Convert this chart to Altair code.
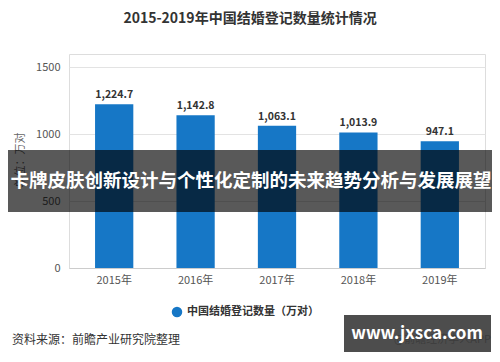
import altair as alt
import pandas as pd

years = ["2015年", "2016年", "2017年", "2018年", "2019年"]
values = [1224.7, 1142.8, 1063.1, 1013.9, 947.1]
series_name = "中国结婚登记数量（万对）"
title_text = "2015-2019年中国结婚登记数量统计情况"
y_title = "单位：万对"
banner_text = "卡牌皮肤创新设计与个性化定制的未来趋势分析与发展展望"
source_text = "资料来源：前瞻产业研究院整理"
app_text = "@前瞻经济学人APP"
site_text = "www.jxsca.com"

FONT = "Noto Sans CJK SC"
L, T = 69, 54  # page coords of plot origin

df = pd.DataFrame({"year": years, "value": values, "series": [series_name] * len(years)})

base = alt.Chart(df)

bars = base.mark_bar(width=alt.RelativeBandSize(1.0)).encode(
    x=alt.X("year:N", sort=years,
            scale=alt.Scale(paddingInner=0.53, paddingOuter=0.32),
            axis=alt.Axis(title=None, labelAngle=0, labelFontSize=11, labelColor="#555",
                          labelFont=FONT, ticks=False, domainColor="#ccc", labelPadding=6)),
    y=alt.Y("value:Q", scale=alt.Scale(domain=[0, 1500]),
            axis=alt.Axis(title=None, values=[0, 500, 1000, 1500], format="d", labelFontSize=11,
                          labelColor="#555", labelFont=FONT, ticks=False, domain=False,
                          gridColor="#e3e3e3", labelPadding=9)),
    color=alt.Color("series:N", scale=alt.Scale(range=["#1677c6"]),
                    legend=alt.Legend(title=None, orient="none", legendX=102, legendY=252,
                                      symbolType="circle", symbolSize=110, labelFontSize=11,
                                      labelFont=FONT, labelColor="#333", labelFontWeight="bold")),
)

labels = base.mark_text(dy=-9, fontSize=10.5, fontWeight="bold", color="#333", font=FONT).encode(
    x=alt.X("year:N", sort=years),
    y="value:Q",
    text=alt.Text("value:Q", format=",.1f"),
)


def txt(s, px, py, **kw):
    return alt.Chart(pd.DataFrame({"t": [s]})).mark_text(font=FONT, **kw).encode(
        text="t:N", x=alt.value(px - L), y=alt.value(py - T))


def box(x1, y1, x2, y2, color, opacity):
    return alt.Chart(pd.DataFrame({"a": [0]})).mark_rect().encode(
        x=alt.value(x1 - L), x2=alt.value(x2 - L), y=alt.value(y1 - T), y2=alt.value(y2 - T),
        color=alt.value(color), opacity=alt.value(opacity))


title = txt(title_text, 250, 19, fontSize=14, fontWeight="bold", color="#333")
ytitle = txt(y_title, 21, 160, fontSize=11, color="#666", angle=270)
banner = box(-10, 150, 510, 212, "black", 0.65)
banner_t = txt(banner_text, 251, 181, fontSize=18.5, fontWeight="bold", color="white")
src = txt(source_text, 12, 340, fontSize=12, color="#333", align="left")
app = txt(app_text, 491, 340, fontSize=11, color="#555", align="right")
wm = box(344, 315, 491, 352, "#3a3a3a", 0.9)
wm_t = txt(site_text, 417, 334, fontSize=17, fontWeight="bold", color="white")

chart = alt.layer(bars, labels, title, ytitle, banner, banner_t, src, app, wm, wm_t).properties(
    width=416, height=214,
    autosize=alt.AutoSizeParams(type="none"),
    padding={"left": L - 8, "top": T - 8, "right": 7, "bottom": 86},
).configure_view(stroke=None).configure(background="white")

chart.save("out.html", embed_options={"renderer": "svg", "actions": False})
